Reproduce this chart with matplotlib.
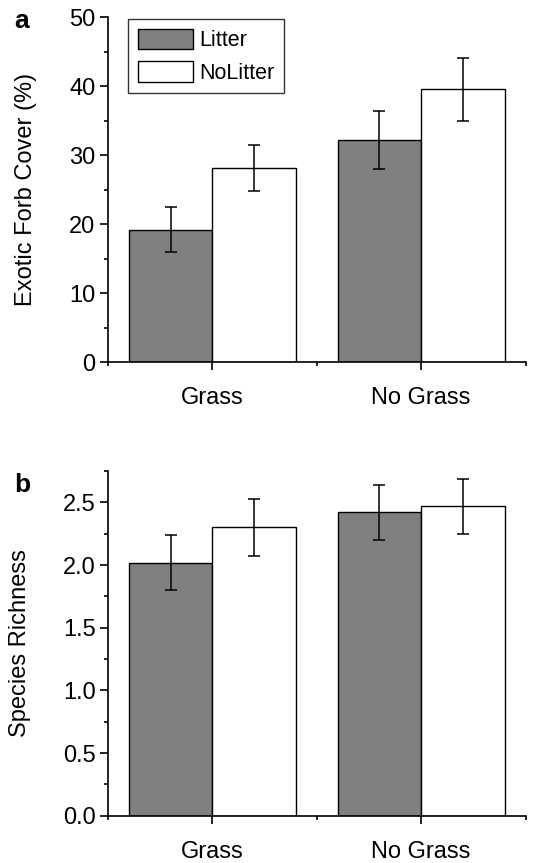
import numpy as np
import matplotlib
matplotlib.use("Agg")
from matplotlib import pyplot as plt
from matplotlib.ticker import MultipleLocator, FormatStrFormatter

plt.rcParams['font.family'] = ['Liberation Sans', 'DejaVu Sans']

groups = ['Grass', 'No Grass']
series = ['Litter', 'NoLitter']

# panel a: exotic forb cover (%)
cover_litter = [19.2, 32.2]
cover_litter_err = [3.3, 4.2]
cover_nolitter = [28.1, 39.5]
cover_nolitter_err = [3.3, 4.6]

# panel b: species richness
rich_litter = [2.02, 2.42]
rich_litter_err = [0.22, 0.22]
rich_nolitter = [2.30, 2.47]
rich_nolitter_err = [0.23, 0.22]

fs = 17
fig = plt.figure(figsize=(5.36, 8.63), dpi=100)
axa = fig.add_axes([0.2015, 0.5805, 0.779, 0.3998])
axb = fig.add_axes([0.2015, 0.0548, 0.779, 0.3994])

x = np.arange(len(groups))
w = 0.4


def barras(ax, v1, e1, v2, e2):
	b1 = ax.bar(x - w/2, v1, w, color='#808080', edgecolor='black', linewidth=1.0, label=series[0])
	b2 = ax.bar(x + w/2, v2, w, color='white', edgecolor='black', linewidth=1.0, label=series[1])
	ax.errorbar(x - w/2, v1, yerr=e1, fmt='none', ecolor='black', elinewidth=1.1, capsize=4, capthick=1.1)
	ax.errorbar(x + w/2, v2, yerr=e2, fmt='none', ecolor='black', elinewidth=1.1, capsize=4, capthick=1.1)
	ax.set_xlim(-0.5, 1.5)
	ax.spines['top'].set_visible(False)
	ax.spines['right'].set_visible(False)
	ax.spines['left'].set_linewidth(1.2)
	ax.spines['bottom'].set_linewidth(1.2)
	ax.set_xticks(x)
	ax.set_xticklabels(groups, fontsize=fs)
	ax.xaxis.set_minor_locator(MultipleLocator(0.5))
	ax.tick_params(axis='x', which='major', length=6, width=1.2, pad=12)
	ax.tick_params(axis='x', which='minor', length=3, width=1.2)
	ax.tick_params(axis='y', which='major', length=6, width=1.2, labelsize=fs, pad=3)
	ax.tick_params(axis='y', which='minor', length=3, width=1.2)
	return b1, b2


barras(axa, cover_litter, cover_litter_err, cover_nolitter, cover_nolitter_err)
axa.set_ylim(0, 50)
axa.yaxis.set_major_locator(MultipleLocator(10))
axa.yaxis.set_minor_locator(MultipleLocator(5))
axa.set_ylabel('Exotic Forb Cover (%)', fontsize=fs, labelpad=23)
leg = axa.legend(loc='upper left', bbox_to_anchor=(0.048, 0.994), borderaxespad=0,
	fontsize=15.5, frameon=True, fancybox=False, handlelength=2.55, handleheight=1.1,
	handletextpad=0.3, borderpad=0.45, labelspacing=0.45)
leg.get_frame().set_edgecolor('black')
leg.get_frame().set_linewidth(1.0)
fig.text(0.026, 1 - 21/863, 'a', fontsize=19, fontweight='bold', va='center', ha='left')

barras(axb, rich_litter, rich_litter_err, rich_nolitter, rich_nolitter_err)
axb.set_ylim(0, 2.75)
axb.yaxis.set_major_locator(MultipleLocator(0.5))
axb.yaxis.set_minor_locator(MultipleLocator(0.25))
axb.yaxis.set_major_formatter(FormatStrFormatter('%.1f'))
axb.set_ylabel('Species Richness', fontsize=fs, labelpad=23)
fig.text(0.026, 1 - 485/863, 'b', fontsize=19, fontweight='bold', va='center', ha='left')

fig.savefig('out.png', dpi=100)
